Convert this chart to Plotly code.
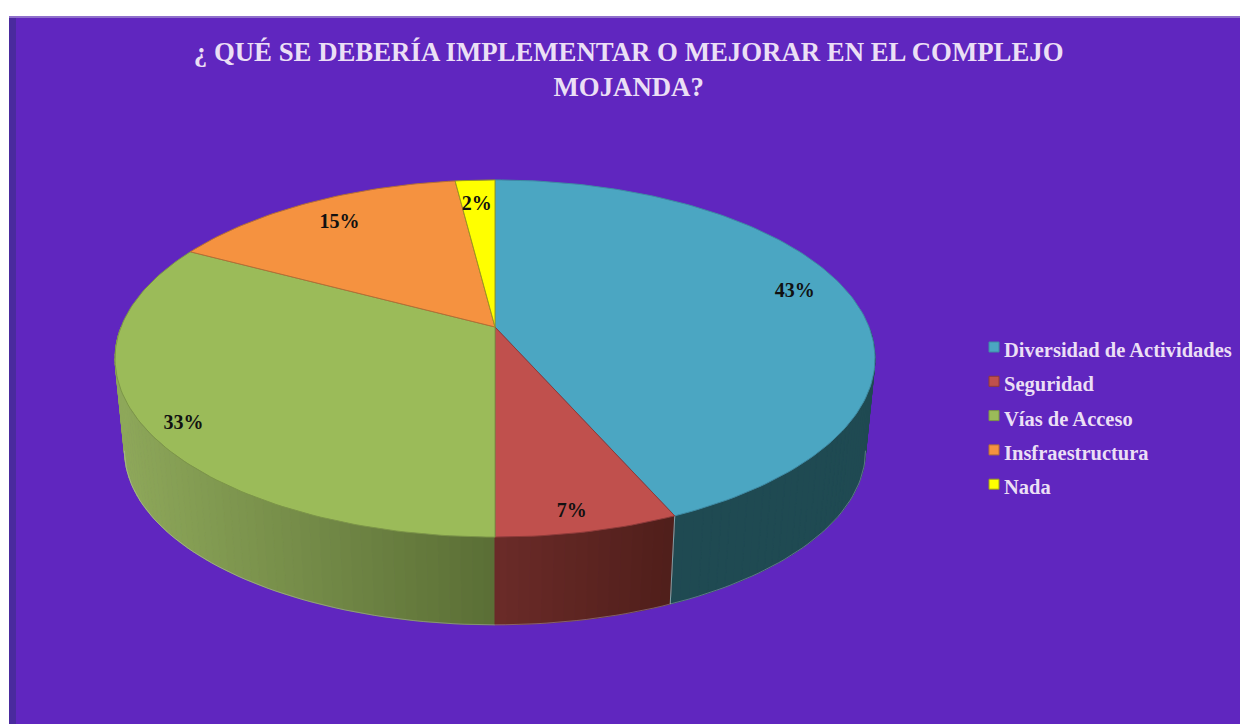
import math
import plotly.graph_objects as go

TITLE = "¿ QUÉ SE DEBERÍA IMPLEMENTAR O MEJORAR EN EL COMPLEJO<br>MOJANDA?"
categories = ["Diversidad de Actividades", "Seguridad", "Vías de Acceso", "Insfraestructura", "Nada"]
values = [43.4, 6.6, 32.8, 15.2, 2.0]

# styling
top_colors = ["#4BA6C2", "#C0504D", "#9BBB59", "#F59240", "#FFFF00"]
edge_colors = ["#3E8BA3", "#8F3B38", "#7C9647", "#B56E34", "#9A9A20"]
wall_left = ["#1F4A52", "#6B2B28", "#8EA85A", "#6B4020", "#808000"]
wall_right = ["#1F4A52", "#4F1E1A", "#5A6E35", "#6B4020", "#808000"]
label_shift = [(-2, -6), (0, 16), (-16, 15), (5, 4), (-1, 6)]
PURPLE = "#6026BF"
SERIF = "Liberation Serif"

# projection of the disc (tilted, with perspective)
CX, CY, BOTTOM_Y = 495.0, 327.0, 420.0
A, B, P, S = 374.0, 173.0, 0.1765, 0.975


def project(theta, r=1.0, bottom=False):
    u, v = r * math.sin(theta), r * math.cos(theta)
    w = 1 + P * v
    if bottom:
        return CX + S * A * u / w, BOTTOM_Y - S * B * v / w
    return CX + A * u / w, CY - B * v / w


def mix(c1, c2, t):
    a = [int(c1[i:i + 2], 16) for i in (1, 3, 5)]
    b = [int(c2[i:i + 2], 16) for i in (1, 3, 5)]
    return "#%02x%02x%02x" % tuple(round(p + (q - p) * t) for p, q in zip(a, b))


total = sum(values)
edges = [0.0]
for val in values:
    edges.append(edges[-1] + val / total * 2 * math.pi)

fig = go.Figure()


def add_poly(xs, ys, fill, line, width=1.0):
    fig.add_trace(go.Scatter(x=xs, y=ys, mode="lines", fill="toself", fillcolor=fill,
                             line=dict(color=line, width=width), hoverinfo="skip", showlegend=False))


# side walls, back to front, cut into strips for the shading
for i in [4, 3, 2, 0, 1]:
    a0, a1 = max(edges[i], math.pi / 2), min(edges[i + 1], 3 * math.pi / 2)
    if a1 <= a0:
        continue
    n = max(2, int((a1 - a0) / 0.025))
    for k in range(n):
        t0 = a0 + (a1 - a0) * k / n
        t1 = a0 + (a1 - a0) * (k + 1) / n
        pts_top = [project(t0), project(t1)]
        pts_bot = [project(t1, bottom=True), project(t0, bottom=True)]
        xs = [p[0] for p in pts_top + pts_bot]
        ys = [p[1] for p in pts_top + pts_bot]
        x_left, x_right = sorted((project(a0)[0], project(a1)[0]))
        f = (sum(xs) / 4 - x_left) / max(1.0, x_right - x_left)
        color = mix(wall_left[i], wall_right[i], f)
        add_poly(xs + xs[:1], ys + ys[:1], color, color, 1.0)
    # light seam at the slice boundary
    for t in (edges[i], edges[i + 1]):
        if math.pi / 2 <= t <= 3 * math.pi / 2 and abs(t - math.pi) > 0.01:
            p0, p1 = project(t), project(t, bottom=True)
            fig.add_trace(go.Scatter(x=[p0[0], p1[0]], y=[p0[1], p1[1]], mode="lines",
                                     line=dict(color="#7FA0A8", width=1), hoverinfo="skip", showlegend=False))

# faint light rim along the lower, outer edge of the wall only
rim_start = math.acos(-P)
rim_span = 2 * math.pi - 2 * rim_start
rim = [project(rim_start + rim_span * k / 120, bottom=True) for k in range(121)]
fig.add_trace(go.Scatter(x=[p[0] for p in rim], y=[p[1] for p in rim], mode="lines",
                         line=dict(color="rgba(205,205,225,0.35)", width=1),
                         hoverinfo="skip", showlegend=False))

# top faces
for i in range(len(values)):
    n = max(6, int((edges[i + 1] - edges[i]) / 0.02))
    pts = [project(edges[i] + (edges[i + 1] - edges[i]) * k / n) for k in range(n + 1)]
    xs = [CX] + [p[0] for p in pts] + [CX]
    ys = [CY] + [p[1] for p in pts] + [CY]
    add_poly(xs, ys, top_colors[i], edge_colors[i], 1.0)

# percentage labels
lx, ly, lt = [], [], []
for i, val in enumerate(values):
    mid = (edges[i] + edges[i + 1]) / 2
    px, py = project(mid, 0.85)
    lx.append(px + label_shift[i][0])
    ly.append(py + label_shift[i][1])
    lt.append(f"{round(val)}%")
fig.add_trace(go.Scatter(x=lx, y=ly, mode="text", text=lt, textposition="middle center",
                         textfont=dict(family=SERIF, size=20, color="#111111", weight="bold"),
                         hoverinfo="skip", showlegend=False))

# legend column: swatches and names
LEG_X, LEG_TEXT_X, LEG_Y, LEG_TEXT_Y, LEG_DY = 994, 1004, 347, 352, 34.3
rows = list(range(len(categories)))
fig.add_trace(go.Scatter(x=[LEG_X for _ in rows], y=[LEG_Y + r * LEG_DY for r in rows], mode="markers",
                         marker=dict(symbol="square", size=10, color=top_colors,
                                     line=dict(color=edge_colors, width=1)),
                         hoverinfo="skip", showlegend=False))
fig.add_trace(go.Scatter(x=[LEG_TEXT_X for _ in rows], y=[LEG_TEXT_Y + r * LEG_DY for r in rows], mode="text",
                         text=categories, textposition="middle right",
                         textfont=dict(family=SERIF, size=20.5, color="#EBDFF5", weight="bold"),
                         hoverinfo="skip", showlegend=False))

fig.update_layout(
    width=1240, height=724, margin=dict(l=0, r=0, t=0, b=0),
    paper_bgcolor="white", plot_bgcolor="white", showlegend=False,
    title=dict(text=TITLE, x=0.507, xanchor="center", y=0.916, yanchor="top",
               font=dict(family=SERIF, size=26.8, color="#EBDFF5", weight="bold")),
    xaxis=dict(range=[0, 1240], visible=False, fixedrange=True),
    yaxis=dict(range=[724, 0], visible=False, fixedrange=True),
    shapes=[
        dict(type="rect", layer="below", x0=9, x1=1240, y0=17, y1=724, fillcolor=PURPLE, line_width=0),
        dict(type="rect", layer="below", x0=9, x1=16, y0=17, y1=724, fillcolor="#4A2A9E", line_width=0),
        dict(type="rect", layer="below", x0=9, x1=1240, y0=16, y1=18, fillcolor="#8F6FCB", line_width=0),
    ],
)
fig.write_html("out.html", config={"displayModeBar": False},
               post_script="document.body.style.margin='0';document.documentElement.style.overflow='hidden';")
